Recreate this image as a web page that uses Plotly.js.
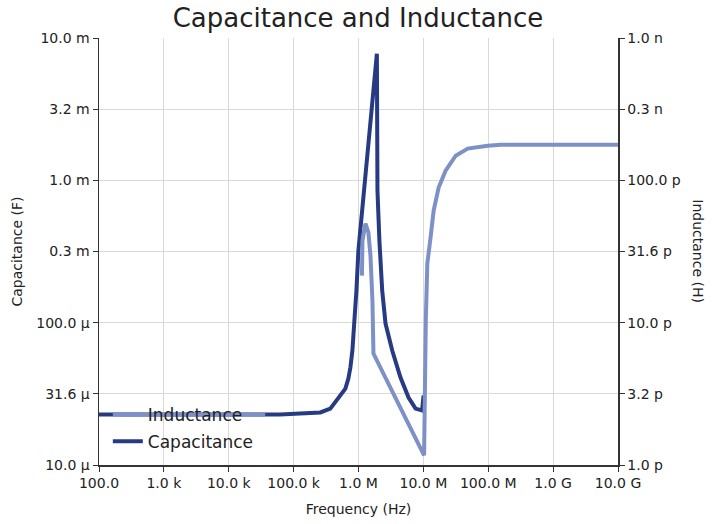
<!DOCTYPE html>
<html>
<head>
<meta charset="utf-8">
<script src="https://cdn.plot.ly/plotly-3.0.1.min.js"></script>
<style>html,body{margin:0;padding:0;background:#fff;}#chart{width:724px;height:524px;}</style>
</head>
<body>
<div id="chart"></div>
<script>
// Capacitance (F) vs frequency (Hz)
const capFreq = [100, 1000, 10000, 62100, 126000, 258000, 368000, 440000, 525000, 628000, 698000, 750000, 805000, 834000, 896000, 929000, 962000, 996000, 1920000, 1960000, 2100000, 2320000, 2610000, 3310000, 4440000, 5910000, 7570000, 9550000, 10070000];
const capValues = [22.6e-6, 22.6e-6, 22.6e-6, 22.6e-6, 23.0e-6, 23.4e-6, 24.9e-6, 27.9e-6, 30.8e-6, 34.4e-6, 40.5e-6, 48.4e-6, 63.7e-6, 88e-6, 132e-6, 168e-6, 232e-6, 321e-6, 7.76e-3, 848e-6, 377e-6, 168e-6, 98.6e-6, 63.7e-6, 41.2e-6, 29.8e-6, 24.9e-6, 24.2e-6, 30.8e-6];

// Inductance (H) vs frequency (Hz); null = not drawn (non-positive)
const indFreq = [200, 1000, 10000, 36400, 100000, 1130000, 1150000, 1280000, 1420000, 1530000, 1640000, 1700000, 10260000, 10900000, 11500000, 12900000, 14400000, 17200000, 22000000, 31500000, 48200000, 98200000, 156000000, 1e9, 1e10];
const indValues = [2.26e-12, 2.26e-12, 2.26e-12, 2.26e-12, null, 21.4e-12, 37.7e-12, 49.7e-12, 43.0e-12, 29.6e-12, 14.3e-12, 6.07e-12, 1.17e-12, 10.4e-12, 26.0e-12, 39.6e-12, 61.2e-12, 89.0e-12, 117e-12, 149e-12, 167e-12, 175e-12, 178e-12, 178e-12, 178e-12];

const xTickVals = [1e2, 1e3, 1e4, 1e5, 1e6, 1e7, 1e8, 1e9, 1e10];
const xTickText = ["100.0", "1.0 k", "10.0 k", "100.0 k", "1.0 M", "10.0 M", "100.0 M", "1.0 G", "10.0 G"];
const capTickVals = [1e-5, 3.1623e-5, 1e-4, 3.1623e-4, 1e-3, 3.1623e-3, 1e-2];
const capTickText = ["10.0 µ", "31.6 µ", "100.0 µ", "0.3 m", "1.0 m", "3.2 m", "10.0 m"];
const indTickVals = [1e-12, 3.1623e-12, 1e-11, 3.1623e-11, 1e-10, 3.1623e-10, 1e-9];
const indTickText = ["1.0 p", "3.2 p", "10.0 p", "31.6 p", "100.0 p", "0.3 n", "1.0 n"];

const FONT = "DejaVu Sans, sans-serif";
const TXT = "#222222";
const AX = "#333333";

const traces = [
  {x: indFreq, y: indValues, name: "Inductance", type: "scatter", mode: "lines",
   yaxis: "y2", legendgroup: "a", line: {color: "#7d91c7", width: 4}, connectgaps: false},
  {x: capFreq, y: capValues, name: "Capacitance", type: "scatter", mode: "lines",
   yaxis: "y", legendgroup: "b", line: {color: "#263b83", width: 4}}
];

const layout = {
  width: 724, height: 524,
  margin: {l: 99, r: 106, t: 38, b: 59, pad: 0},
  paper_bgcolor: "#ffffff", plot_bgcolor: "#ffffff",
  font: {family: FONT, color: TXT, size: 14},
  title: {text: "Capacitance and Inductance", font: {family: FONT, size: 26, color: TXT},
          x: 0.4945, xanchor: "center", y: 0.966, yanchor: "middle", yref: "container"},
  showlegend: true,
  legend: {x: 0.017, y: 0.16, xanchor: "left", yanchor: "top", bgcolor: "rgba(0,0,0,0)",
           font: {family: FONT, size: 17, color: TXT}, traceorder: "grouped", tracegroupgap: 2,
           itemwidth: 30},
  xaxis: {type: "log", range: [2, 10], tickmode: "array", tickvals: xTickVals, ticktext: xTickText,
          showgrid: true, gridcolor: "#d9d9d9", gridwidth: 1, zeroline: false,
          showline: true, linecolor: AX, linewidth: 1.5, ticks: "outside", ticklen: 5, tickcolor: AX,
          tickfont: {family: FONT, size: 14, color: TXT}, mirror: false,
          title: {text: "Frequency (Hz)", font: {family: FONT, size: 14, color: TXT}, standoff: 14}},
  yaxis: {type: "log", range: [-5, -2], tickmode: "array", tickvals: capTickVals, ticktext: capTickText,
          showgrid: true, gridcolor: "#d9d9d9", gridwidth: 1, zeroline: false,
          showline: true, linecolor: AX, linewidth: 1.5, ticks: "outside", ticklen: 5, tickcolor: AX,
          tickfont: {family: FONT, size: 14, color: TXT},
          title: {text: "Capacitance (F)", font: {family: FONT, size: 14, color: TXT}, standoff: 10}},
  yaxis2: {type: "log", range: [-12, -9], overlaying: "y", side: "right", tickmode: "array",
           tickvals: indTickVals, ticktext: indTickText, showgrid: false, zeroline: false,
           showline: true, linecolor: AX, linewidth: 1.5, ticks: "outside", ticklen: 5, tickcolor: AX,
           tickfont: {family: FONT, size: 14, color: TXT}},
  annotations: [
    {text: "Inductance (H)", xref: "paper", yref: "paper", x: 1.1545, y: 0.5, xanchor: "center",
     yanchor: "middle", textangle: 90, showarrow: false, font: {family: FONT, size: 14, color: TXT}}
  ]
};

Plotly.newPlot("chart", traces, layout, {displayModeBar: false, staticPlot: true});
</script>
</body>
</html>
